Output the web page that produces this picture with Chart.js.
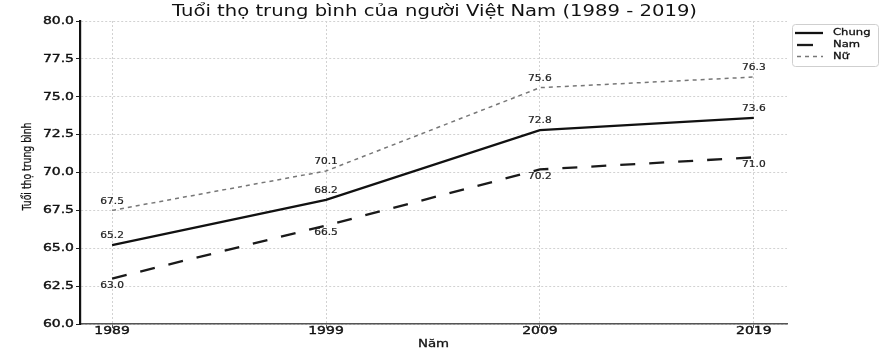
<!DOCTYPE html>
<html><head><meta charset="utf-8">
<script src="https://cdn.jsdelivr.net/npm/chart.js@4/dist/chart.umd.min.js"></script>
<style>html,body{margin:0;padding:0;background:#fff}#wrap{width:886px;height:361px}</style>
</head><body><div id="wrap"><canvas id="c" width="886" height="361"></canvas></div>
<script>
const years = [1989, 1999, 2009, 2019];
const chung = [65.2, 68.2, 72.8, 73.6];
const nam = [63.0, 66.5, 70.2, 71.0];
const nu = [67.5, 70.1, 75.6, 76.3];
const yTicks = [60, 62.5, 65, 67.5, 70, 72.5, 75, 77.5, 80];
const titleText = 'Tuổi thọ trung bình của người Việt Nam (1989 - 2019)';
const xTitle = 'Năm';
const yTitle = 'Tuổi thọ trung bình';

const FONT = "'DejaVu Sans', sans-serif";
const SX = 1.27; // horizontal stretch of the reference lettering

const mk = (label, arr, style) => Object.assign({
  label, data: years.map((y, i) => ({x: y, y: arr[i]})),
  pointRadius: 0, tension: 0, fill: false
}, style);

const datasets = [
  mk('Chung', chung, {borderColor: '#111', borderWidth: 2.3, labelPos: 'above'}),
  mk('Nam', nam, {borderColor: '#1a1a1a', borderWidth: 2.3, borderDash: [15, 14], labelPos: 'below'}),
  mk('Nữ', nu, {borderColor: '#777', borderWidth: 1.5, borderDash: [4, 4], labelPos: 'above'})
];

function txt(ctx, s, x, y, o) {
  ctx.save();
  ctx.font = (o.weight || 'normal') + ' ' + o.size + 'px ' + FONT;
  ctx.fillStyle = o.color || '#111';
  ctx.textAlign = o.align || 'center';
  ctx.textBaseline = o.baseline || 'middle';
  let sx = o.sx || SX;
  if (o.fitW) sx = o.fitW / ctx.measureText(s).width;
  ctx.translate(x, y);
  if (o.rotate) {
    let sl = 1;
    if (o.fitL) sl = o.fitL / ctx.measureText(s).width;
    ctx.scale(sx, 1);
    ctx.rotate(o.rotate);
    ctx.scale(sl, 1);
  } else {
    ctx.scale(sx, 1);
  }
  ctx.fillText(s, 0, 0);
  if (o.stroke) {
    ctx.strokeStyle = o.color || '#111';
    ctx.lineWidth = o.stroke;
    ctx.strokeText(s, 0, 0);
  }
  ctx.restore();
}

const extras = {
  id: 'extras',
  afterDatasetsDraw(chart) {
    const ctx = chart.ctx;
    const ca = chart.chartArea;
    const xs = chart.scales.x, ys = chart.scales.y;
    // data labels
    chart.data.datasets.forEach((ds, di) => {
      const meta = chart.getDatasetMeta(di);
      meta.data.forEach((pt, i) => {
        const v = ds.data[i].y.toFixed(1);
        const yy = ds.labelPos === 'above' ? pt.y - 9 : pt.y + 7.5;
        txt(ctx, v, pt.x, yy, {size: 8.5, sx: 1.25, color: '#222', stroke: 0.2});
      });
    });
    // tick labels
    yTicks.forEach(v => txt(ctx, v.toFixed(1), 74, ys.getPixelForValue(v), {size: 11, align: 'right', color: '#111', stroke: 0.4}));
    years.forEach(v => txt(ctx, String(v), xs.getPixelForValue(v), 331, {size: 11, color: '#111', stroke: 0.4}));
    // axis titles
    txt(ctx, xTitle, (ca.left + ca.right) / 2, 344, {size: 10.5, color: '#111', stroke: 0.3});
    txt(ctx, yTitle, 28, (ca.top + ca.bottom) / 2 - 6, {size: 10, rotate: -Math.PI / 2, sx: 1.2, fitL: 88, color: '#111', stroke: 0.2});
    // title
    txt(ctx, titleText, (ca.left + ca.right) / 2 + 1, 16, {size: 15, baseline: 'alphabetic', fitW: 525, color: '#111'});
    // legend
    ctx.save();
    const lx = 792, ly = 24, lw = 86, lh = 42;
    ctx.strokeStyle = '#cfcfcf'; ctx.lineWidth = 1;
    ctx.beginPath();
    if (ctx.roundRect) ctx.roundRect(lx + 0.5, ly + 0.5, lw, lh, 3); else ctx.rect(lx + 0.5, ly + 0.5, lw, lh);
    ctx.fillStyle = '#fff'; ctx.fill(); ctx.stroke();
    const rows = [33, 45, 56.5];
    const seg = [[795, 823], [797, 813], [797, 823]];
    chart.data.datasets.forEach((ds, di) => {
      const y = rows[di];
      ctx.beginPath();
      ctx.strokeStyle = ds.borderColor; ctx.lineWidth = ds.borderWidth;
      ctx.setLineDash(di === 2 ? [4, 4] : []);
      ctx.moveTo(seg[di][0], y); ctx.lineTo(seg[di][1], y); ctx.stroke();
      ctx.setLineDash([]);
      txt(ctx, ds.label, 833, y, {size: 9.5, align: 'left', sx: 1.22, color: '#111', stroke: 0.3});
    });
    ctx.restore();
  }
};

new Chart(document.getElementById('c'), {
  type: 'line',
  data: {datasets},
  options: {
    responsive: false, animation: false,
    layout: {padding: {left: 0, right: 99, top: 21, bottom: 0}},
    plugins: {legend: {display: false}, title: {display: false}, tooltip: {enabled: false}},
    scales: {
      x: {
        type: 'linear', min: 1987.5, max: 2020.55,
        afterBuildTicks: s => { s.ticks = years.map(v => ({value: v})); },
        afterFit: s => { s.height = 37; },
        ticks: {display: false},
        grid: {color: '#d2d2d2', tickColor: '#555', tickLength: 4, tickBorderDash: [], lineWidth: 1},
        border: {display: true, color: '#555', width: 1.5, dash: [2, 2]}
      },
      y: {
        min: 60, max: 80,
        afterBuildTicks: s => { s.ticks = yTicks.map(v => ({value: v})); },
        afterFit: s => { s.width = 80; },
        ticks: {display: false},
        grid: {color: '#d2d2d2', tickColor: '#222', tickLength: 4, tickBorderDash: [], lineWidth: 1},
        border: {display: true, color: '#111', width: 2.2, dash: [2, 2]}
      }
    }
  },
  plugins: [extras]
});
</script></body></html>
